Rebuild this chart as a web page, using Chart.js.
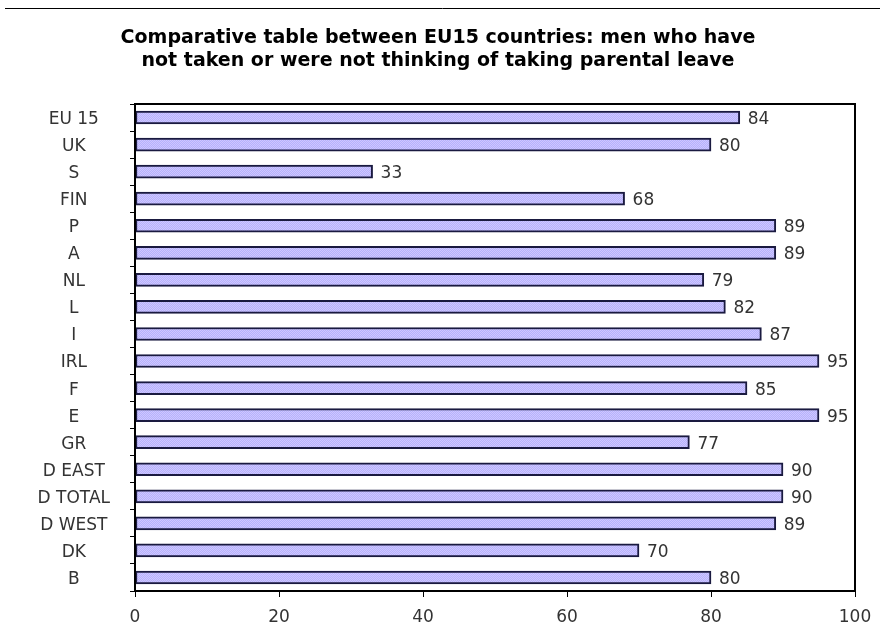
<!DOCTYPE html>
<html><head><meta charset="utf-8">
<script src="https://cdn.jsdelivr.net/npm/chart.js@4/dist/chart.umd.min.js"></script>
<style>html,body{margin:0;padding:0;background:#fff}#wrap{width:882px;height:642px}</style>
</head><body><div id="wrap"><canvas id="c" width="882" height="642"></canvas></div>
<script>
const categories = ["EU 15","UK","S","FIN","P","A","NL","L","I","IRL","F","E","GR","D EAST","D TOTAL","D WEST","DK","B"];
const values = [84,80,33,68,89,89,79,82,87,95,85,95,77,90,90,89,70,80];
const xTicks = [0,20,40,60,80,100];
const titleLines = ["Comparative table between EU15 countries: men who have","not taken or were not thinking of taking parental leave"];

function makePattern(){
  const p = document.createElement('canvas'); p.width = 2; p.height = 2;
  const g = p.getContext('2d');
  g.fillStyle = '#b4b4fc'; g.fillRect(0,0,2,2);
  g.fillStyle = '#d0c4ff'; g.fillRect(0,0,1,1); g.fillRect(1,1,1,1);
  return document.getElementById('c').getContext('2d').createPattern(p,'repeat');
}

const deco = {
  id:'deco',
  beforeDraw(chart){
    const ctx = chart.ctx;
    ctx.save();
    ctx.fillStyle='#fff'; ctx.fillRect(0,0,chart.width,chart.height);
    ctx.strokeStyle='#000'; ctx.lineWidth=1;
    ctx.beginPath(); ctx.moveTo(5,8.5); ctx.lineTo(880,8.5); ctx.stroke();
    ctx.fillStyle='#000'; ctx.font='bold 19px "DejaVu Sans"'; ctx.textAlign='center'; ctx.textBaseline='middle';
    ctx.fillText(titleLines[0], 438, 38);
    ctx.fillText(titleLines[1], 438, 61);
    ctx.restore();
  },
  afterDraw(chart){
    const ctx = chart.ctx, a = chart.chartArea;
    ctx.save();
    ctx.strokeStyle='#000'; ctx.lineWidth=2;
    ctx.strokeRect(a.left, a.top, a.right-a.left, a.bottom-a.top);
    const meta = chart.getDatasetMeta(0);
    ctx.fillStyle='#333'; ctx.font='17px "DejaVu Sans"'; ctx.textAlign='left'; ctx.textBaseline='middle';
    meta.data.forEach((bar,i)=>{ ctx.fillText(String(values[i]), bar.x+8, bar.y+2); });
    ctx.restore();
  }
};

new Chart(document.getElementById('c'), {
  type:'bar',
  data:{ labels:categories, datasets:[{ data:values, backgroundColor:makePattern(), borderColor:'#1a1a40', borderWidth:2, borderSkipped:false, barThickness:13 }]},
  options:{
    indexAxis:'y', responsive:false, animation:false,
    layout:{ padding:{ top:104, right:27, left:0, bottom:0 } },
    plugins:{ legend:{display:false}, tooltip:{enabled:false}, title:{display:false} },
    scales:{
      x:{ min:0, max:100, afterBuildTicks(s){ s.ticks = xTicks.map(v=>({value:v})); },
          grid:{ drawOnChartArea:false, color:'#000', tickLength:6, tickColor:'#000' },
          border:{ color:'#000', width:2 },
          ticks:{ color:'#333', font:{ family:'DejaVu Sans', size:17 }, padding:10 },
          afterFit(s){ s.height = 51; } },
      y:{ grid:{ drawOnChartArea:false, offset:true, tickLength:5, tickColor:'#000' },
          border:{ color:'#000', width:2 },
          ticks:{ color:'#333', font:{ family:'DejaVu Sans', size:17 }, crossAlign:'center', padding:20, labelOffset:2 },
          afterFit(s){ s.width = 135; } }
    }
  },
  plugins:[deco]
});
</script></body></html>
